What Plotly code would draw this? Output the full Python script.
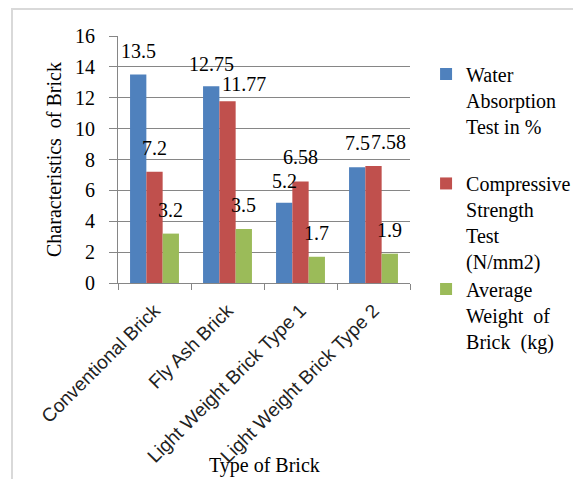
import plotly.graph_objects as go

categories = ["Conventional Brick", "Fly Ash Brick", "Light Weight Brick Type 1", "Light Weight Brick Type 2"]
water_absorption = [13.5, 12.75, 5.2, 7.5]
compressive_strength = [7.2, 11.77, 6.58, 7.58]
average_weight = [3.2, 3.5, 1.7, 1.9]
series_names = [
    "Water<br>Absorption<br>Test in %",
    "Compressive<br>Strength<br>Test<br>(N/mm2)",
    "Average<br>Weight  of<br>Brick  (kg)",
]
y_ticks = [0, 2, 4, 6, 8, 10, 12, 14, 16]

series = [water_absorption, compressive_strength, average_weight]
colors = ["#4F81BD", "#C0504D", "#9BBB59"]
legend_ids = ["legend", "legend2", "legend3"]
legend_y = [0.925, 0.482, 0.055]
label_xshift = [-16, 0, 16]
label_nudge_x = [[0, 0, 0, 0], [0, 16, 0, 15], [0, 0, 0, 0]]
label_nudge_y = [[0, -2, -2, 0], [0, -7, 0, 0], [0, 0, 0, 0]]

SERIF = "Liberation Serif, Times New Roman, serif"
fig = go.Figure()
for name, vals, col, lid in zip(series_names, series, colors, legend_ids):
    fig.add_trace(go.Bar(x=categories, y=vals, name=name, legend=lid,
                         marker=dict(color=col, line=dict(width=0))))

annotations = []
for si, vals in enumerate(series):
    for ci, (cat, v) in enumerate(zip(categories, vals)):
        annotations.append(dict(
            x=cat, y=v, xref="x", yref="y", text=f"{v:g}", showarrow=False,
            xshift=label_xshift[si] + label_nudge_x[si][ci],
            yshift=24 + label_nudge_y[si][ci], yanchor="middle",
            font=dict(family=SERIF, size=20, color="#000000"),
        ))
annotations.append(dict(
    x=0.5, y=-0.74, xref="paper", yref="paper", text="Type of Brick", showarrow=False,
    font=dict(family=SERIF, size=20, color="#000000"), yanchor="middle",
))

legend_common = dict(
    x=1.055, xanchor="left", yanchor="top",
    font=dict(family=SERIF, size=20, color="#000000"),
    valign="top", itemwidth=30, bgcolor="rgba(0,0,0,0)",
)
legends = {lid: dict(legend_common, y=ly) for lid, ly in zip(legend_ids, legend_y)}

fig.update_layout(
    annotations=annotations,
    width=573, height=471,
    margin=dict(l=110, r=171, t=28, b=196, autoexpand=False),
    paper_bgcolor="white", plot_bgcolor="white",
    barmode="group", bargap=0.33, bargroupgap=0,
    showlegend=True,
    xaxis=dict(
        type="category", tickangle=-45, showgrid=False,
        showline=True, linecolor="#868686", linewidth=1,
        ticks="outside", tickson="boundaries", ticklen=6, tickcolor="#868686",
        ticklabelstandoff=8, automargin=False,
        tickfont=dict(family="Liberation Sans", size=19, color="#222222"),
    ),
    yaxis=dict(
        range=[0, 16], tickvals=y_ticks, showgrid=True, gridcolor="#868686", gridwidth=1,
        showline=True, linecolor="#868686", linewidth=1,
        ticks="outside", ticklen=8, tickcolor="#868686", ticklabelstandoff=10,
        tickfont=dict(family=SERIF, size=20, color="#000000"),
        zeroline=False, automargin=False,
        title=dict(text="Characteristics  of Brick", font=dict(family=SERIF, size=20, color="#000000"), standoff=8),
    ),
    shapes=[dict(type="rect", xref="paper", yref="paper",
                 x0=-0.363, x1=1.7, y0=-1.0, y1=1.109,
                 line=dict(color="#D9D9D9", width=2), layer="below")],
    **legends,
)
fig.write_html("out.html")
